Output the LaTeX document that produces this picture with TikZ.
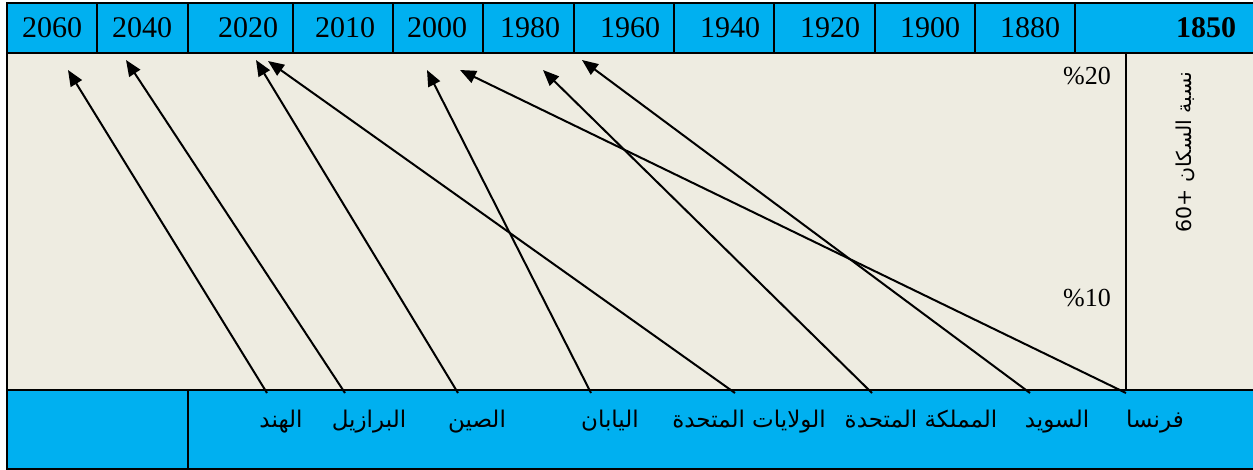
\documentclass[tikz,border=0pt]{standalone}
\usepackage{fontspec}
\setmainfont{Liberation Serif}
\newfontfamily\arabicfont[Script=Arabic]{DejaVu Sans}
\TeXXeTstate=1
\usetikzlibrary{arrows.meta}
\definecolor{barcyan}{HTML}{00B0F0}
\definecolor{paper}{HTML}{EEECE1}
\tikzset{
  frame/.style={line width=1.6pt, black},
  year/.style={font=\fontsize{30}{30}\selectfont, inner sep=0pt},
  pct/.style={font=\fontsize{26}{26}\selectfont, inner sep=0pt, anchor=east},
  country/.style={font=\arabicfont\fontsize{23}{23}\selectfont, inner sep=0pt, anchor=base},
  arr/.style={line width=2pt, -{Triangle[length=16pt,width=13pt]}},
}
\begin{document}
\begin{tikzpicture}[x=1pt,y=-1pt]
\useasboundingbox (0,0) rectangle (1253,470);
\clip (0,0) rectangle (1253,470);
% backgrounds
\fill[barcyan] (7,3) rectangle (1262,53);
\fill[paper] (7,53) rectangle (1262,390);
\fill[barcyan] (7,390) rectangle (1262,469);
% frame and grid
\draw[frame] (7,3) rectangle (1262,469);
\draw[frame] (7,53) -- (1262,53);
\draw[frame] (7,390) -- (1262,390);
\foreach \x in {97,188,293,393,483,574,674,774,875,975,1075}
  \draw[frame] (\x,3) -- (\x,53);
\draw[frame] (1126,53) -- (1126,390);
\draw[frame] (188,390) -- (188,469);
% years
\node[year] (y2060) at (52,28) {2060};
\node[year] (y2040) at (142,28) {2040};
\node[year] (y2020) at (248,28) {2020};
\node[year] (y2010) at (345,28) {2010};
\node[year] (y2000) at (437,28) {2000};
\node[year] (y1980) at (530,28) {1980};
\node[year] (y1960) at (630,28) {1960};
\node[year] (y1940) at (730,28) {1940};
\node[year] (y1920) at (830,28) {1920};
\node[year] (y1900) at (930,28) {1900};
\node[year] (y1880) at (1030,28) {1880};
\node[year, font=\fontsize{30}{30}\selectfont\bfseries] (y1850) at (1206,28) {1850};
% percentages
\node[pct] (p20) at (1111,76) {\%20};
\node[pct] (p10) at (1111,298) {\%10};
% rotated axis title
\node[font=\arabicfont\fontsize{20.5}{20.5}\selectfont, rotate=90, inner sep=0pt] (axis) at (1185,152)
  {\beginR نسبة السكان +\beginL 60\endL\endR};
% country labels
\node[country] (hind) at (281,427) {\beginR الهند\endR};
\node[country] (brazil) at (369,427) {\beginR البرازيل\endR};
\node[country] (china) at (477,427) {\beginR الصين\endR};
\node[country] (japan) at (610,427) {\beginR اليابان\endR};
\node[country] (usa) at (749,427) {\beginR الولايات المتحدة\endR};
\node[country] (uk) at (921,427) {\beginR المملكة المتحدة\endR};
\node[country] (sweden) at (1057,427) {\beginR السويد\endR};
\node[country] (france) at (1155,427) {\beginR فرنسا\endR};
% arrow start points
\coordinate (sHind) at (267,393);
\coordinate (sBrazil) at (345,393);
\coordinate (sChina) at (458,393);
\coordinate (sJapan) at (591,393);
\coordinate (sUSA) at (735,393);
\coordinate (sUK) at (872,393);
\coordinate (sSweden) at (1030,393);
\coordinate (sFrance) at (1126,393);
% arrow tips
\coordinate (tHind) at (68,70);
\coordinate (tBrazil) at (126,60);
\coordinate (tChina) at (256,60);
\coordinate (tUSA) at (268,61);
\coordinate (tJapan) at (427,70);
\coordinate (tFrance) at (460,70);
\coordinate (tUK) at (543,70);
\coordinate (tSweden) at (582,60);
% arrows
\draw[arr] (sHind) -- (tHind);
\draw[arr] (sBrazil) -- (tBrazil);
\draw[arr] (sChina) -- (tChina);
\draw[arr] (sJapan) -- (tJapan);
\draw[arr] (sUSA) -- (tUSA);
\draw[arr] (sUK) -- (tUK);
\draw[arr] (sSweden) -- (tSweden);
\draw[arr] (sFrance) -- (tFrance);
\end{tikzpicture}
\end{document}
